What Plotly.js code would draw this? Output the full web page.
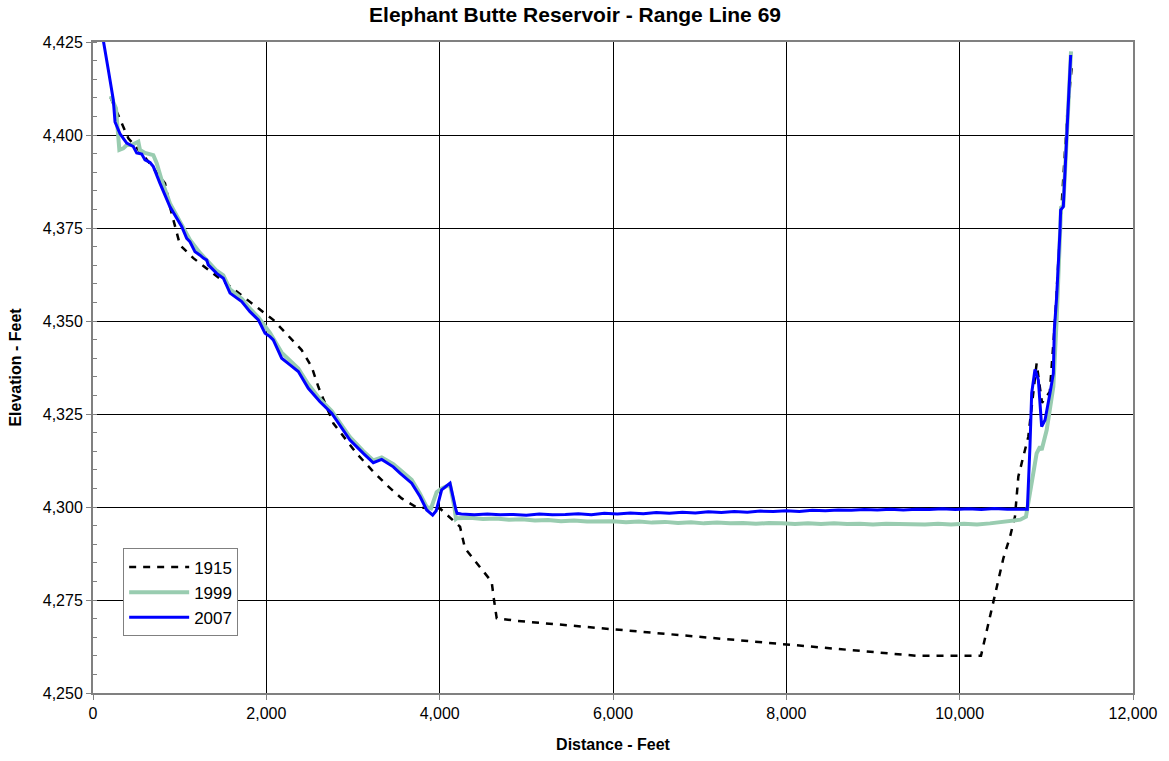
<!DOCTYPE html>
<html>
<head>
<meta charset="utf-8">
<script src="https://cdn.plot.ly/plotly-3.0.1.min.js"></script>
<style>html,body{margin:0;padding:0;background:#fff;}#chart{width:1169px;height:761px;}</style>
</head>
<body>
<div id="chart"></div>
<script>
// ---- Data ----
const x1915 = [204,312,408,600,831,888,946,1004,1158,1350,1542,1716,1908,2080,2253,2408,2523,2600,2773,3042,3215,3388,3562,3735,4004,4235,4292,4446,4600,4627,4658,4888,6311,8000,9500,10246,10504,10581,10638,10677,10735,10792,10888,10950,11040,11100,11160,11240,11292];
const y1915 = [4410,4404,4399.1,4394,4387,4380.7,4375.8,4370.4,4366.9,4363.5,4360.1,4357,4353.4,4350.3,4346,4342.2,4337.7,4332.3,4322.5,4314.4,4310,4305.9,4302.3,4299.9,4299.6,4294.7,4288.9,4284.4,4279.9,4275,4270.1,4269.4,4266.5,4262.9,4260,4260,4286.2,4292,4297.4,4308.2,4313.5,4318.9,4338.6,4328,4331,4350,4375,4405,4418];

const x1999 = [204,265,304,350,389,446,523,542,600,696,735,792,888,1023,1119,1235,1330,1427,1504,1581,1716,1811,1908,2042,2177,2273,2369,2484,2619,2754,2888,2965,3119,3234,3331,3465,3542,3677,3773,3850,3900,3965,4023,4119,4170,4188,
  4200,4350,4500,4650,4800,4950,5100,5250,5400,5550,5700,5850,6000,6150,6300,6450,6600,6750,6900,7050,7200,7350,7500,7650,7800,7950,8100,8250,8400,8550,8700,8850,9000,9150,9300,9450,9600,9750,9900,10050,10200,10350,10500,10600,10700,10765,
  10811,10888,10927,10946,11004,11081,11119,11158,11170,11196,11235,11254,11285];
const y1999 = [4410.5,4407.2,4396,4396.4,4397.3,4397.3,4398.2,4396,4395.2,4394.6,4392.4,4387.9,4381.6,4375.8,4371.8,4368.3,4365.8,4363.5,4362.3,4358.5,4356,4353.3,4351,4346.8,4341.5,4339.2,4337.2,4333,4329,4325.8,4321.5,4318.8,4315,4312.5,4313.3,4311.5,4310,4307.3,4303.6,4300,4299.6,4304,4305,4306,4300,4296.8,
  4297.0,4297.1,4296.8,4296.9,4296.6,4296.7,4296.4,4296.5,4296.2,4296.4,4296.1,4296.1,4296.2,4295.9,4296.1,4295.8,4296.0,4295.7,4295.9,4295.6,4295.8,4295.6,4295.7,4295.5,4295.7,4295.6,4295.4,4295.6,4295.4,4295.6,4295.4,4295.5,4295.3,4295.5,4295.4,4295.5,4295.3,4295.5,4295.3,4295.5,4295.3,4295.6,4296.0,4296.2,4296.6,4297.4,
  4303.7,4314.4,4316.2,4315.3,4320.7,4332.4,4350.3,4374,4380.5,4381,4400,4411,4422.5];

const x2007 = [100,140,177,234,254,312,389,465,504,562,600,658,696,773,888,1023,1081,1119,1177,1235,1273,1312,1330,1427,1504,1581,1716,1811,1908,1985,2042,2080,2177,2273,2369,2484,2619,2754,2888,2965,3119,3234,3331,3465,3542,3677,3773,3850,3919,3960,4023,4119,4188,4200,
  4250,4400,4550,4700,4850,5000,5150,5300,5450,5600,5750,5900,6050,6200,6350,6500,6650,6800,6950,7100,7250,7400,7550,7700,7850,8000,8150,8300,8450,8600,8750,8900,9050,9200,9350,9500,9650,9800,9950,10100,10250,10400,10550,10700,10781,
  10811,10831,10869,10908,10946,10985,11042,11081,11092,11119,11158,11165,11196,11235,11254,11281];
const y2007 = [4428,4422,4417.5,4409.5,4403.5,4400.3,4397.8,4396.9,4395.2,4394.9,4393.3,4392.6,4391.5,4387,4380.7,4375.4,4372.2,4371.3,4368.6,4367.7,4366.9,4366.4,4365.1,4362.8,4361.5,4357.5,4355.2,4352.5,4350.3,4346.7,4345.8,4344.9,4340,4338.2,4336.4,4331.9,4328.3,4325.2,4320.7,4318,4314.4,4311.9,4312.8,4310.8,4309.1,4306.4,4302.8,4299.2,4297.8,4299,4304.6,4306.4,4299.2,4298.3,
  4298.1,4297.9,4298.1,4297.9,4298.0,4297.8,4298.1,4297.9,4298.0,4298.2,4297.9,4298.3,4298.1,4298.4,4298.2,4298.5,4298.3,4298.6,4298.4,4298.7,4298.5,4298.8,4298.6,4298.9,4298.8,4299.0,4298.8,4299.1,4299.0,4299.2,4299.1,4299.3,4299.2,4299.4,4299.2,4299.4,4299.3,4299.5,4299.3,4299.5,4299.3,4299.6,4299.4,4299.5,4299.4,
  4316.2,4330.6,4337,4334.1,4321.6,4323.4,4330.6,4335.9,4347.6,4356.5,4374.5,4379.8,4380.7,4399.5,4410.3,4421.5];

const seriesNames = ['1915','1999','2007'];
const xTicks = [0,2000,4000,6000,8000,10000,12000];
const yTicks = [4250,4275,4300,4325,4350,4375,4400,4425];

const FONT = 'Liberation Sans, Arial, sans-serif';

const traces = [
  {x:x1915, y:y1915, name:seriesNames[0], mode:'lines', line:{color:'#000000', width:2.5, dash:'7px,7px'}},
  {x:x1999, y:y1999, name:seriesNames[1], mode:'lines', line:{color:'#99ccb0', width:4}},
  {x:x2007, y:y2007, name:seriesNames[2], mode:'lines', line:{color:'#0000ff', width:3}}
];

const layout = {
  width:1169, height:761,
  paper_bgcolor:'#ffffff', plot_bgcolor:'#ffffff',
  margin:{l:93, r:36, t:42, b:68},
  font:{family:FONT, size:15, color:'#000'},
  title:{text:'<b>Elephant Butte Reservoir - Range Line 69</b>', font:{family:FONT, size:21, color:'#000'}, xref:'paper', x:0.4635, xanchor:'center', y:0.99, yanchor:'top'},
  xaxis:{
    range:[0,12000], tickvals:xTicks, tickformat:',d',
    showgrid:true, gridcolor:'#000000', gridwidth:1,
    showline:true, linecolor:'#808080', linewidth:2, mirror:true,
    ticks:'outside', ticklen:5, tickcolor:'#808080',
    zeroline:false, tickfont:{size:16},
    title:{text:'<b>Distance - Feet</b>', font:{size:16}, standoff:18}
  },
  yaxis:{
    range:[4250,4425], tickvals:yTicks, tickformat:',d',
    showgrid:true, gridcolor:'#000000', gridwidth:1,
    showline:true, linecolor:'#808080', linewidth:2, mirror:true,
    ticks:'outside', ticklen:5, tickcolor:'#808080',
    minor:{dtick:5, ticks:'inside', ticklen:4, tickcolor:'#808080', showgrid:false},
    zeroline:false, tickfont:{size:16},
    title:{text:'<b>Elevation - Feet</b>', font:{size:16}, standoff:17}
  },
  legend:{
    x:0.029, y:0.222, xanchor:'left', yanchor:'top',
    bgcolor:'#ffffff', bordercolor:'#808080', borderwidth:1,
    font:{size:17}, tracegroupgap:0, itemwidth:60
  },
  showlegend:true
};

Plotly.newPlot('chart', traces, layout, {displayModeBar:false, staticPlot:true});
</script>
</body>
</html>
